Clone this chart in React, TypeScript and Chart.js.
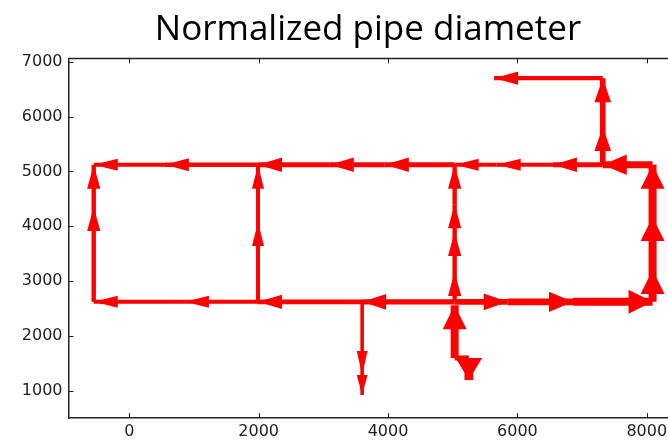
import { useEffect, useRef } from "react";
import { Chart, registerables } from "chart.js";

Chart.register(...registerables);

const chartTitle = "Normalized pipe diameter";
const xTicks = [0, 2000, 4000, 6000, 8000];
const yTicks = [1000, 2000, 3000, 4000, 5000, 6000, 7000];

// Pipe runs: node coordinates (x, y) and normalized diameter of each segment
const topRowX = [8090, 7320, 6550, 5680, 5030, 3950, 3100, 1990, 550, -550];
const topRowY = [5120, 5120, 5120, 5120, 5120, 5120, 5120, 5120, 5120, 5120];
const topRowD = [0.85, 0.6, 0.5, 0.5, 0.6, 0.6, 0.6, 0.55, 0.5];

const leftColX = [-550, -550, -550];
const leftColY = [2620, 4350, 5120];
const leftColD = [0.55, 0.55];

const bottomLeftX = [5030, 3600, 1990, 860, -550];
const bottomLeftY = [2620, 2620, 2620, 2620, 2620];
const bottomLeftD = [0.65, 0.6, 0.5, 0.5];

const midColX = [1990, 1990, 1990];
const midColY = [2620, 4077, 5120];
const midColD = [0.5, 0.5];

const centerColX = [5030, 5030, 5030, 5030, 5030];
const centerColY = [2620, 3164, 3895, 4400, 5120];
const centerColD = [0.55, 0.55, 0.55, 0.55];

const inletX = [5030, 5030];
const inletY = [1596, 2560];
const inletD = [1.0];

const bottomRightX = [5030, 5850, 6860, 8090];
const bottomRightY = [2620, 2620, 2620, 2620];
const bottomRightD = [0.7, 0.85, 1.0];

const rightColX = [8090, 8090, 8090, 8090];
const rightColY = [2620, 3200, 4168, 5120];
const rightColD = [1.0, 1.0, 1.0];

const upperColX = [7320, 7320, 7320];
const upperColY = [5120, 5809, 6700];
const upperColD = [0.7, 0.7];

const topBranchX = [7320, 5640];
const topBranchY = [6700, 6700];
const topBranchD = [0.55];

const downBranchX = [3600, 3600, 3600];
const downBranchY = [2620, 1286, 922];
const downBranchD = [0.45, 0.45];

const outletPipeX = [5030, 5250];
const outletPipeY = [1596, 1596];
const outletPipeD = [0.65];

const outletArrowX = [5250, 5250];
const outletArrowY = [1596, 1195];
const outletArrowD = [1.1];

const runs = [
  { xs: topRowX, ys: topRowY, d: topRowD, head: true },
  { xs: leftColX, ys: leftColY, d: leftColD, head: true },
  { xs: bottomLeftX, ys: bottomLeftY, d: bottomLeftD, head: true },
  { xs: midColX, ys: midColY, d: midColD, head: true },
  { xs: centerColX, ys: centerColY, d: centerColD, head: true },
  { xs: inletX, ys: inletY, d: inletD, head: true },
  { xs: bottomRightX, ys: bottomRightY, d: bottomRightD, head: true },
  { xs: rightColX, ys: rightColY, d: rightColD, head: true },
  { xs: upperColX, ys: upperColY, d: upperColD, head: true },
  { xs: topBranchX, ys: topBranchY, d: topBranchD, head: true },
  { xs: downBranchX, ys: downBranchY, d: downBranchD, head: true },
  { xs: outletPipeX, ys: outletPipeY, d: outletPipeD, head: false },
  { xs: outletArrowX, ys: outletArrowY, d: outletArrowD, head: true },
];

const RED = "#ff0000";
const PX_PER_DIAM = 8;
const HEAD_LEN = 24;

const arrowHeads = {
  id: "arrowHeads",
  afterDatasetsDraw(chart: any) {
    const ctx = chart.ctx;
    ctx.save();
    ctx.fillStyle = RED;
    chart.data.datasets.forEach((ds: any, i: number) => {
      if (!ds.head) return;
      const meta = chart.getDatasetMeta(i);
      const p0 = meta.data[0];
      const p1 = meta.data[1];
      if (!p0 || !p1) return;
      const dx = p1.x - p0.x;
      const dy = p1.y - p0.y;
      const len = Math.hypot(dx, dy) || 1;
      const ux = dx / len;
      const uy = dy / len;
      const hw = ds.borderWidth * 1.5;
      const hl = Math.min(HEAD_LEN, Math.max(len, 20));
      const bx = p1.x - ux * hl;
      const by = p1.y - uy * hl;
      ctx.beginPath();
      ctx.moveTo(p1.x, p1.y);
      ctx.lineTo(bx - uy * hw, by + ux * hw);
      ctx.lineTo(bx + uy * hw, by - ux * hw);
      ctx.closePath();
      ctx.fill();
    });
    ctx.restore();
  },
};

const frameTicks = {
  id: "frameTicks",
  afterDraw(chart: any) {
    const { ctx, chartArea } = chart;
    const xs = chart.scales.x;
    const ys = chart.scales.y;
    ctx.save();
    ctx.strokeStyle = "#222";
    ctx.lineWidth = 1.5;
    ctx.beginPath();
    ctx.moveTo(chartArea.left, chartArea.top);
    ctx.lineTo(chartArea.right, chartArea.top);
    ctx.stroke();
    ctx.lineWidth = 1;
    ctx.beginPath();
    xTicks.forEach((v) => {
      const px = Math.round(xs.getPixelForValue(v)) + 0.5;
      ctx.moveTo(px, chartArea.bottom);
      ctx.lineTo(px, chartArea.bottom - 5);
      ctx.moveTo(px, chartArea.top);
      ctx.lineTo(px, chartArea.top + 5);
    });
    yTicks.forEach((v) => {
      const py = Math.round(ys.getPixelForValue(v)) + 0.5;
      ctx.moveTo(chartArea.left, py);
      ctx.lineTo(chartArea.left + 5, py);
    });
    ctx.stroke();
    ctx.restore();
  },
};

export default function App() {
  const ref = useRef<HTMLCanvasElement | null>(null);

  useEffect(() => {
    if (!ref.current) return;
    const datasets: any[] = [];
    runs.forEach((run) => {
      for (let i = 0; i < run.d.length; i++) {
        datasets.push({
          data: [
            { x: run.xs[i], y: run.ys[i] },
            { x: run.xs[i + 1], y: run.ys[i + 1] },
          ],
          showLine: true,
          borderColor: RED,
          backgroundColor: RED,
          borderWidth: run.d[i] * PX_PER_DIAM,
          borderCapStyle: "butt",
          pointRadius: 0,
          pointHoverRadius: 0,
          head: run.head,
        });
      }
    });

    const chart = new Chart(ref.current, {
      type: "scatter",
      data: { datasets },
      plugins: [arrowHeads, frameTicks],
      options: {
        animation: false,
        responsive: false,
        layout: { padding: 0 },
        plugins: {
          legend: { display: false },
          tooltip: { enabled: false },
          title: {
            display: true,
            text: chartTitle,
            color: "#000",
            font: { family: "'Open Sans', sans-serif", size: 35, weight: "normal", lineHeight: 1.2 },
            padding: { top: 9, bottom: 7.4 },
          },
        },
        scales: {
          x: {
            type: "linear",
            min: -940,
            max: 9380,
            afterBuildTicks: (s: any) => {
              s.ticks = xTicks.map((v) => ({ value: v }));
            },
            afterFit: (s: any) => {
              s.height = 21.9;
            },
            grid: { display: false, drawTicks: false },
            border: { display: true, color: "#222", width: 1.5 },
            ticks: {
              padding: 4,
              color: "#222",
              font: { family: "'DejaVu Sans', sans-serif", size: 16 },
              maxRotation: 0,
              callback: (v: any) => String(v),
            },
          },
          y: {
            type: "linear",
            min: 500,
            max: 7060,
            afterBuildTicks: (s: any) => {
              s.ticks = yTicks.map((v) => ({ value: v }));
            },
            afterFit: (s: any) => {
              s.width = 68.5;
            },
            grid: { display: false, drawTicks: false },
            border: { display: true, color: "#222", width: 1.5 },
            ticks: {
              padding: 6,
              color: "#222",
              font: { family: "'DejaVu Sans', sans-serif", size: 16 },
              callback: (v: any) => String(v),
            },
          },
        },
      } as any,
    });
    return () => chart.destroy();
  }, []);

  return (
    <div style={{ position: "fixed", left: 0, top: 0, width: 668, height: 440, overflow: "hidden", background: "#fff" }}>
      <canvas ref={ref} width={736} height={440} style={{ display: "block", width: 736, height: 440 }} />
    </div>
  );
}
